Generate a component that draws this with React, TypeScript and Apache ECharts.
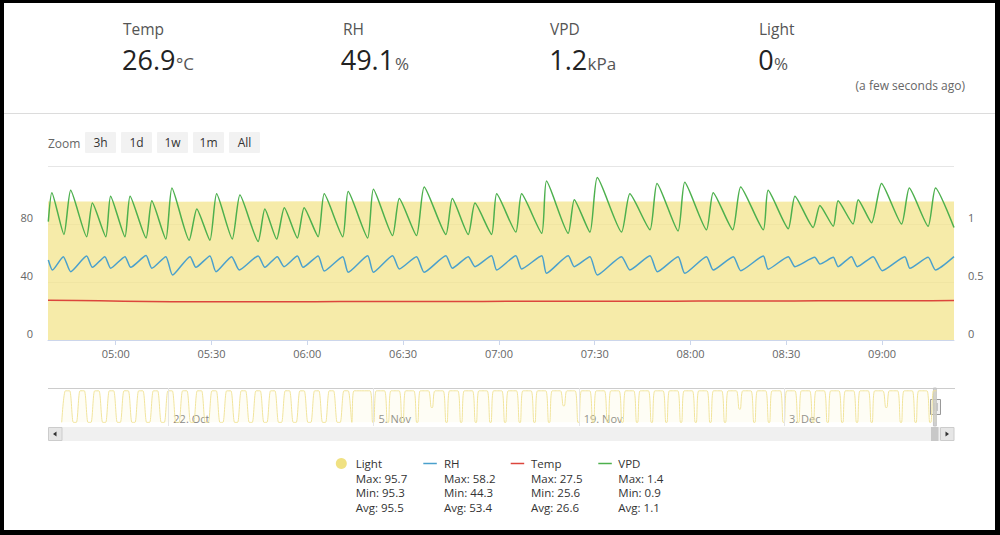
import React, { useEffect, useRef } from 'react';
import * as echarts from 'echarts';

// ---------- header ----------
const headerLabels = ['Temp', 'RH', 'VPD', 'Light'];
const headerValues = ['26.9', '49.1', '1.2', '0'];
const headerUnits = ['°C', '%', 'kPa', '%'];
const updatedText = '(a few seconds ago)';
const zoomButtons = ['3h', '1d', '1w', '1m', 'All'];

// ---------- main chart (minutes after midnight, 13 Dec 2018) ----------
const viewStartMin = 278.8;
const viewEndMin = 562.5;
const timeTickMinutes = [300, 330, 360, 390, 420, 450, 480, 510, 540];

const vpdMinutes = [278.9, 280.0, 283.8, 285.9, 290.9, 292.7, 296.9, 298.4, 302.9, 304.5,
  309.5, 311.3, 315.7, 317.6, 323.0, 325.4, 329.5, 331.6, 336.5, 338.9,
  344.6, 346.7, 350.4, 352.8, 356.9, 359.0, 363.4, 365.3, 371.1, 372.8,
  378.9, 380.7, 386.7, 388.8, 394.2, 396.6, 403.4, 405.4, 410.4, 412.5,
  417.7, 419.3, 425.3, 427.1, 433.4, 434.9, 441.7, 443.6, 448.5, 450.8,
  458.4, 461.0, 467.3, 469.5, 476.1, 478.2, 485.0, 487.1, 493.2, 495.7,
  502.8, 504.3, 510.6, 512.7, 518.4, 520.5, 524.7, 526.2, 530.9, 532.5,
  536.7, 539.8, 546.1, 548.5, 554.4, 556.7, 562.5];
const vpdValues = [1.02, 1.27, 0.91, 1.29, 0.89, 1.18, 0.89, 1.24, 0.89, 1.24,
  0.88, 1.20, 0.87, 1.31, 0.86, 1.13, 0.86, 1.26, 0.87, 1.25,
  0.85, 1.13, 0.87, 1.14, 0.88, 1.14, 0.89, 1.26, 0.89, 1.28,
  0.88, 1.30, 0.90, 1.22, 0.90, 1.32, 0.91, 1.22, 0.91, 1.18,
  0.91, 1.26, 0.93, 1.26, 0.92, 1.37, 0.92, 1.21, 0.93, 1.40,
  0.93, 1.26, 0.95, 1.35, 0.94, 1.36, 0.95, 1.27, 0.95, 1.32,
  0.95, 1.29, 0.96, 1.24, 0.97, 1.16, 0.98, 1.20, 1.00, 1.21,
  1.01, 1.35, 1.00, 1.31, 0.98, 1.31, 0.97];

const rhMinutes = [278.9, 280.2, 283.6, 285.9, 290.9, 292.7, 296.6, 298.4, 302.9, 304.7,
  309.5, 311.3, 315.7, 317.8, 323.3, 325.1, 329.5, 331.4, 336.3, 338.7,
  344.6, 346.7, 350.6, 352.7, 356.9, 358.7, 363.4, 365.3, 371.1, 372.8,
  378.9, 380.7, 386.7, 388.8, 394.2, 396.6, 403.4, 405.4, 410.4, 412.5,
  417.7, 419.3, 425.3, 427.1, 433.4, 434.9, 441.7, 443.6, 448.5, 450.8,
  458.4, 461.0, 467.3, 469.6, 476.1, 478.2, 485.0, 487.1, 493.4, 495.7,
  502.8, 504.3, 510.6, 512.7, 518.9, 520.5, 524.7, 526.2, 530.4, 532.2,
  537.2, 540.0, 547.1, 548.7, 554.4, 556.7, 562.5];
const rhValues = [55.2, 48.3, 57.5, 47.1, 57.9, 50.1, 57.5, 49.5, 57.5, 50.1,
  58.2, 49.5, 57.5, 44.8, 57.5, 50.1, 58.0, 47.1, 57.5, 48.3,
  58.0, 50.1, 57.5, 50.6, 57.9, 50.1, 58.0, 47.6, 57.5, 46.7,
  58.1, 46.7, 58.1, 49.0, 57.5, 46.7, 58.1, 49.5, 57.5, 50.6,
  58.1, 48.3, 58.1, 49.0, 58.1, 46.0, 58.1, 50.6, 57.5, 44.8,
  57.5, 48.3, 58.1, 47.1, 57.5, 46.0, 57.5, 48.3, 57.5, 47.8,
  57.9, 48.8, 57.5, 50.6, 57.0, 52.4, 57.0, 50.6, 57.5, 50.6,
  57.5, 47.8, 57.5, 49.5, 57.0, 48.3, 57.5];

const tempMinutes = [278.8, 295, 310, 325, 340, 355, 370, 385, 400, 415, 430, 445, 460, 475, 490, 505, 520, 535, 550, 562.5];
const tempValues = [27.4, 27.0, 26.6, 26.3, 26.3, 26.4, 26.5, 26.5, 26.6, 26.6, 26.7, 26.7, 26.8, 26.8, 26.9, 26.9, 27.0, 27.1, 27.1, 27.2];

const lightMinutes = [278.8, 300, 320, 340, 360, 380, 400, 420, 440, 460, 480, 500, 520, 540, 562.5];
const lightValues = [95.5, 95.6, 95.4, 95.5, 95.7, 95.5, 95.3, 95.4, 95.5, 95.6, 95.5, 95.4, 95.5, 95.6, 95.5];

// ---------- legend ----------
const legendNames = ['Light', 'RH', 'Temp', 'VPD'];
const legendMax = ['95.7', '58.2', '27.5', '1.4'];
const legendMin = ['95.3', '44.3', '25.6', '0.9'];
const legendAvg = ['95.5', '53.4', '26.6', '1.1'];

// ---------- navigator (light history) ----------
// daily light pulses 14 Oct .. 2 Nov (peak level of each day)
const navPulseTops = [95.5, 95.6, 95.4, 95.5, 95.6, 95.5, 95.4, 95.5, 95.6, 95.5,
  95.5, 95.4, 95.6, 95.5, 95.5, 95.6, 95.4, 95.5, 95.5, 95.6];
// nightly dark period 4 Nov .. 12 Dec (lowest level reached each night)
const navNightMins = [0, 0, 0, 0, 45, 0, 0, 0, 0, 0,
  0, 0, 0, 50, 0, 0, 0, 0, 0, 0,
  0, 0, 0, 0, 0, 40, 0, 0, 0, 0,
  0, 0, 0, 0, 0, 45, 0, 0, 0];
const navOnLevel = 95.5;
const navLabelDays = [[9, 22], [10, 5], [10, 19], [11, 3]];
const monthNames = ['Jan', 'Feb', 'Mar', 'Apr', 'May', 'Jun', 'Jul', 'Aug', 'Sep', 'Oct', 'Nov', 'Dec'];

const COLORS = { light: '#f0e182', lightFill: '#f3e48c', rh: '#4aa0cc', temp: '#dc463c', vpd: '#4db04d', nav: '#f1e49c' };
const FONT = '"Open Sans", "Noto Sans", sans-serif';

const H = 3600000;
const DAY0 = new Date(2018, 11, 13).getTime();
const toTs = (m: number) => DAY0 + m * 60000;
const pairs = (ms: number[], vs: number[]) => ms.map((m, i) => [toTs(m), vs[i]]);
const pad2 = (n: number) => (n < 10 ? '0' : '') + n;

function buildNavData() {
  const data: number[][] = [];
  navPulseTops.forEach((top, i) => {
    const d0 = new Date(2018, 9, 14 + i).getTime();
    data.push([d0 + 17.5 * H, 0], [d0 + 23.5 * H, top], [d0 + 30.5 * H, top], [d0 + 36.5 * H, 0]);
  });
  data.push([new Date(2018, 10, 3, 16).getTime(), navOnLevel]);
  navNightMins.forEach((mn, i) => {
    const d0 = new Date(2018, 10, 4 + i).getTime();
    data.push([d0 + 18 * H, navOnLevel], [d0 + 22.5 * H, mn], [d0 + 24.5 * H, mn], [d0 + 28.5 * H, navOnLevel]);
  });
  data.push([toTs(viewEndMin), navOnLevel]);
  return data;
}

function txt(x: number, y: number, text: string, size: number, color: string, align = 'left', weight: any = 'normal') {
  return {
    type: 'text', x, y, silent: true,
    style: { text, fontSize: size, fill: color, fontFamily: FONT, align, verticalAlign: 'middle', fontWeight: weight },
  };
}

function buildGraphic() {
  const g: any[] = [];
  const labelX = [123, 343, 550, 759];
  const valueX = [122, 340.7, 549.3, 758.3];
  const unitX = [176, 395, 587.5, 774];
  headerLabels.forEach((l, i) => {
    g.push(txt(labelX[i], 28.5, l, 15.5, '#555'));
    g.push(txt(valueX[i], 59.5, headerValues[i], 27, '#222'));
    g.push(txt(unitX[i], 63, headerUnits[i], 17, '#555'));
  });
  g.push(txt(965, 85, updatedText, 12, '#666', 'right'));
  g.push({ type: 'line', silent: true, shape: { x1: 4, y1: 113.5, x2: 995, y2: 113.5 }, style: { stroke: '#dcdcdc', lineWidth: 1 } });

  // range selector
  g.push(txt(48, 143, 'Zoom', 12, '#666'));
  zoomButtons.forEach((b, i) => {
    const x = 85 + i * 36;
    g.push({ type: 'rect', silent: true, shape: { x, y: 132, width: 31, height: 21, r: 1 }, style: { fill: '#f2f2f2' } });
    g.push(txt(x + 15.5, 142.5, b, 12, '#333', 'center'));
  });

  // navigator outline + scrollbar
  g.push({ type: 'line', silent: true, shape: { x1: 48, y1: 388.5, x2: 955, y2: 388.5 }, style: { stroke: '#cccccc', lineWidth: 1 } });
  g.push({ type: 'rect', silent: true, shape: { x: 62, y: 427, width: 878, height: 14 }, style: { fill: '#f0f0f0' } });
  g.push({ type: 'rect', silent: true, shape: { x: 48.5, y: 427.5, width: 13.5, height: 13 }, style: { fill: '#e6e6e6', stroke: '#cccccc', lineWidth: 1 } });
  g.push({ type: 'polygon', silent: true, shape: { points: [[56.5, 431.5], [56.5, 436.5], [53, 434]] }, style: { fill: '#333' } });
  g.push({ type: 'rect', silent: true, shape: { x: 940.5, y: 427.5, width: 13.5, height: 13 }, style: { fill: '#e6e6e6', stroke: '#cccccc', lineWidth: 1 } });
  g.push({ type: 'polygon', silent: true, shape: { points: [[945.5, 431.5], [945.5, 436.5], [949, 434]] }, style: { fill: '#333' } });
  g.push({ type: 'rect', silent: true, shape: { x: 931, y: 427, width: 7.5, height: 14 }, style: { fill: '#c8c8c8' } });
  // navigator handle
  g.push({ type: 'rect', silent: true, shape: { x: 930.5, y: 399.5, width: 10, height: 15 }, style: { fill: '#f2f2f2', stroke: '#999', lineWidth: 1 } });
  g.push({ type: 'line', silent: true, shape: { x1: 934, y1: 403, x2: 934, y2: 411 }, style: { stroke: '#999', lineWidth: 1 } });
  g.push({ type: 'line', silent: true, shape: { x1: 937, y1: 403, x2: 937, y2: 411 }, style: { stroke: '#999', lineWidth: 1 } });

  // legend
  const symX = [341.3, 423.3, 510.7, 598.3];
  const textX = [355.7, 444, 531, 618.3];
  const symColors = [COLORS.light, COLORS.rh, COLORS.temp, COLORS.vpd];
  legendNames.forEach((n, i) => {
    if (i === 0) {
      g.push({ type: 'circle', silent: true, shape: { cx: symX[i], cy: 463.5, r: 5.5 }, style: { fill: symColors[i] } });
    } else {
      g.push({ type: 'line', silent: true, shape: { x1: symX[i], y1: 463.5, x2: symX[i] + 13.5, y2: 463.5 }, style: { stroke: symColors[i], lineWidth: 1.5 } });
    }
    g.push(txt(textX[i], 463.3, n, 11.5, '#333'));
    g.push(txt(textX[i], 478.3, 'Max: ' + legendMax[i], 11.5, '#333'));
    g.push(txt(textX[i], 492.8, 'Min: ' + legendMin[i], 11.5, '#333'));
    g.push(txt(textX[i], 507.3, 'Avg: ' + legendAvg[i], 11.5, '#333'));
  });
  return g;
}

function buildOption() {
  const tickTs = timeTickMinutes.map(toTs);
  const navLabelTs = navLabelDays.map(([m, d]) => new Date(2018, m, d).getTime());
  const navMin = new Date(2018, 9, 13, 19, 3).getTime();
  const navMax = new Date(2018, 11, 14, 14, 18).getTime();
  const noLine = { show: false };
  return {
    animation: false,
    textStyle: { fontFamily: FONT },
    grid: [
      { left: 48, top: 166, width: 906, height: 174, containLabel: false },
      { left: 48, top: 388, width: 906, height: 38, containLabel: false },
    ],
    xAxis: [
      {
        type: 'value', gridIndex: 0, min: toTs(viewStartMin), max: toTs(viewEndMin), scale: true,
        axisLine: { show: true, lineStyle: { color: '#ccd6eb' } },
        axisTick: { show: true, length: 5, customValues: tickTs, lineStyle: { color: '#ccd6eb' } },
        axisLabel: {
          customValues: tickTs, color: '#666', fontSize: 11, margin: 8, hideOverlap: false,
          formatter: (v: number) => { const d = new Date(v); return pad2(d.getHours()) + ':' + pad2(d.getMinutes()); },
        },
        splitLine: noLine,
      },
      {
        type: 'value', gridIndex: 1, min: navMin, max: navMax, scale: true,
        axisLine: noLine, axisTick: noLine, splitLine: noLine,
        axisLabel: {
          customValues: navLabelTs, inside: true, align: 'left', color: '#888', fontSize: 11, margin: 2,
          padding: [0, 0, 0, 5], hideOverlap: false,
          formatter: (v: number) => { const d = new Date(v); return d.getDate() + '. ' + monthNames[d.getMonth()]; },
        },
      },
    ],
    yAxis: [
      {
        type: 'value', gridIndex: 0, position: 'left', min: 0, max: 120, interval: 40,
        axisLine: noLine, axisTick: noLine,
        axisLabel: { color: '#666', fontSize: 11, margin: 15, verticalAlign: 'bottom', padding: [0, 0, 1.5, 0], formatter: (v: number) => (v >= 120 ? '' : String(v)) },
        splitLine: { show: true, lineStyle: { color: '#e6e6e6', width: 1 } },
      },
      {
        type: 'value', gridIndex: 0, position: 'right', min: 0, max: 1.5, interval: 0.5,
        axisLine: noLine, axisTick: noLine,
        axisLabel: { color: '#666', fontSize: 11, margin: 14, verticalAlign: 'bottom', padding: [0, 0, 1.5, 0], formatter: (v: number) => (v >= 1.5 ? '' : String(v)) },
        splitLine: noLine,
      },
      { type: 'value', gridIndex: 1, min: -11, max: 104, show: false },
    ],
    series: [
      {
        name: 'Light', type: 'line', xAxisIndex: 0, yAxisIndex: 0, data: pairs(lightMinutes, lightValues),
        symbol: 'none', lineStyle: { width: 0, color: COLORS.lightFill }, itemStyle: { color: COLORS.light },
        areaStyle: { color: COLORS.lightFill, opacity: 0.75, origin: 'start' }, z: 1, silent: true,
      },
      {
        name: 'RH', type: 'line', xAxisIndex: 0, yAxisIndex: 0, data: pairs(rhMinutes, rhValues),
        symbol: 'none', smooth: 0.2, lineStyle: { width: 1.5, color: COLORS.rh }, itemStyle: { color: COLORS.rh }, z: 3,
      },
      {
        name: 'Temp', type: 'line', xAxisIndex: 0, yAxisIndex: 0, data: pairs(tempMinutes, tempValues),
        symbol: 'none', smooth: 0.3, lineStyle: { width: 1.5, color: COLORS.temp }, itemStyle: { color: COLORS.temp }, z: 3,
      },
      {
        name: 'VPD', type: 'line', xAxisIndex: 0, yAxisIndex: 1, data: pairs(vpdMinutes, vpdValues),
        symbol: 'none', smooth: 0.2, lineStyle: { width: 1.5, color: COLORS.vpd }, itemStyle: { color: COLORS.vpd }, z: 3,
      },
      {
        name: 'Navigator', type: 'line', xAxisIndex: 1, yAxisIndex: 2, data: buildNavData(),
        symbol: 'none', smooth: 0.25, lineStyle: { width: 1, color: COLORS.nav }, itemStyle: { color: COLORS.nav },
        areaStyle: { color: '#f7eba9', opacity: 0.12 }, silent: true,
        markLine: {
          silent: true, symbol: 'none', label: { show: false },
          lineStyle: { color: '#e6e6e6', width: 1, type: 'solid' },
          data: navLabelTs.map((t) => ({ xAxis: t })),
        },
        markArea: {
          silent: true,
          itemStyle: { color: 'rgba(200,200,200,0.85)', borderColor: '#c4c4c4', borderWidth: 1 },
          data: [[{ xAxis: toTs(viewStartMin) }, { xAxis: toTs(viewEndMin) }]],
        },
      },
    ],
    graphic: buildGraphic(),
  };
}

export default function App() {
  const ref = useRef<HTMLDivElement>(null);
  useEffect(() => {
    const chart = echarts.init(ref.current as HTMLDivElement, null, { renderer: 'svg' });
    chart.setOption(buildOption() as any);
    return () => chart.dispose();
  }, []);
  return (
    <div style={{ position: 'fixed', left: 0, top: 0, width: 1000, height: 535, background: '#000' }}>
      <div style={{ position: 'absolute', left: 4, top: 3, width: 991, height: 527, background: '#fff' }} />
      <div ref={ref} style={{ position: 'absolute', left: 0, top: 0, width: 1000, height: 535 }} />
    </div>
  );
}
